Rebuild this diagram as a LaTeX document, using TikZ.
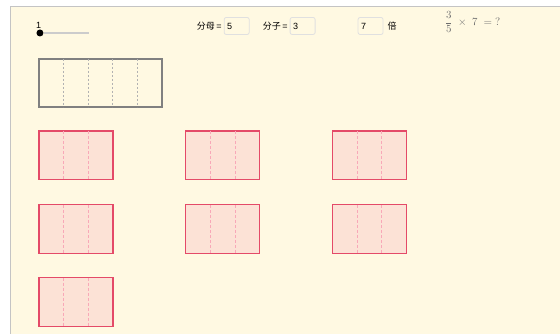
\documentclass[tikz,border=0pt]{standalone}
\usepackage{amsmath}
\usepackage{fontspec}
\setsansfont{Liberation Sans}
\newfontfamily\cjk{Noto Sans CJK SC}
\usetikzlibrary{positioning,calc}
\definecolor{cream}{RGB}{255,249,226}
\definecolor{framegray}{RGB}{196,196,196}
\definecolor{rosered}{RGB}{228,74,104}
\definecolor{rosefill}{RGB}{252,226,214}
\definecolor{rosedash}{RGB}{248,168,184}
\definecolor{inkgray}{RGB}{110,110,110}

\begin{document}
\begin{tikzpicture}[x=1pt,y=-1pt,
    piece/.style={draw=rosered,fill=rosefill,line width=1.3pt,minimum width=74pt,minimum height=49pt,inner sep=0pt,outer sep=0pt},
    whole/.style={draw=black!50,line width=1.8pt,minimum width=123pt,minimum height=48pt,inner sep=0pt,outer sep=0pt},
    piecediv/.style={rosedash,dashed,line width=1pt,dash pattern=on 3pt off 2pt},
    wholediv/.style={black!30,dashed,line width=0.5pt,dash pattern=on 2pt off 2pt},
    inbox/.style={draw=black!12,line width=0.8pt,rounded corners=2pt,minimum width=25pt,minimum height=17pt,inner sep=2pt,text width=19pt,align=left,font=\sffamily\fontsize{9}{10}\selectfont},
    lbl/.style={inner sep=1pt,font=\fontsize{9}{10}\selectfont}]
  % backdrop
  \fill[white] (0,0) rectangle (560,334);
  \fill[cream] (11,7) rectangle (560,334);
  \draw[framegray,line width=1pt] (11,334) -- (11,7) -- (560,7);
  % slider
  \node[circle,fill=black,inner sep=0pt,minimum size=7pt] (dot) at (40,33) {};
  \coordinate (slend) at (89,33);
  \draw[black!20,line width=1.6pt] (dot) -- (slend);
  \node[lbl,font=\sffamily\fontsize{9}{10}\selectfont,above left=1pt and -5pt of dot] (val) {1};
  % inputs
  \node[inbox,anchor=west] (den) at (224,26) {5};
  \node[lbl,left=1pt of den] (denl) {{\cjk 分母}\,\sffamily=};
  \node[inbox,anchor=west] (num) at (290,26) {3};
  \node[lbl,left=1pt of num] (numl) {{\cjk 分子}\,\sffamily=};
  \node[inbox,anchor=west] (times) at (358,26) {7};
  \node[lbl,right=3pt of times] (timesl) {\cjk 倍};
  \node[text=inkgray,inner sep=0pt,anchor=west,font=\fontsize{11}{13}\selectfont] (task) at (445,22) {$\dfrac{3}{5}\;\times\;7\;=\;?$};
  % the whole
  \node[whole,anchor=north west] (w) at (39,59) {};
  \foreach \k in {1,...,4}
    \draw[wholediv] ($(w.north west)!\k/5!(w.north east)$) -- ($(w.south west)!\k/5!(w.south east)$);
  % the pieces
  \node[piece,anchor=north west] (p1) at (39,131) {};
  \node[piece,right=73pt of p1] (p2) {};
  \node[piece,right=73pt of p2] (p3) {};
  \node[piece,below=25pt of p1] (p4) {};
  \node[piece,right=73pt of p4] (p5) {};
  \node[piece,right=73pt of p5] (p6) {};
  \node[piece,below=24pt of p4] (p7) {};
  \foreach \p in {p1,p2,p3,p4,p5,p6,p7}
    \foreach \k in {1,2}
      \draw[piecediv] ($(\p.north west)!\k/3!(\p.north east)$) -- ($(\p.south west)!\k/3!(\p.south east)$);
\end{tikzpicture}
\end{document}
